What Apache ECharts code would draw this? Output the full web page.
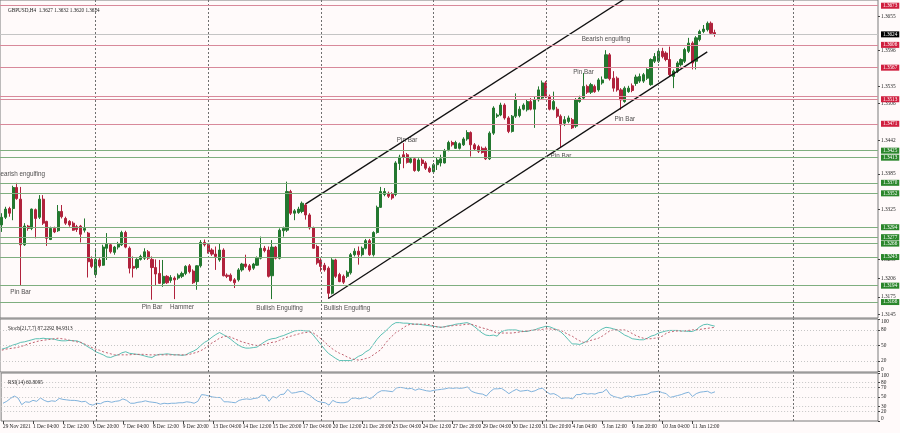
<!DOCTYPE html>
<html><head><meta charset="utf-8">
<script src="https://cdn.jsdelivr.net/npm/echarts@6/dist/echarts.min.js"></script>
<style>html,body{margin:0;padding:0;background:#fffafa}#c{width:900px;height:433px}</style>
</head><body><div id="c"></div>
<script>
const tickLabels = ['29 Nov 2021','1 Dec 04:00','2 Dec 12:00','3 Dec 20:00','7 Dec 04:00','8 Dec 12:00','9 Dec 20:00','13 Dec 04:00','14 Dec 12:00','15 Dec 20:00','17 Dec 04:00','20 Dec 12:00','21 Dec 20:00','23 Dec 04:00','24 Dec 12:00','27 Dec 20:00','29 Dec 04:00','30 Dec 12:00','31 Dec 20:00','4 Jan 04:00','5 Jan 12:00','6 Jan 20:00','10 Jan 04:00','11 Jan 12:00'];

// [open, close, low, high]
const candles = [
[1.3298,1.3311,1.3286,1.3318],[1.3311,1.3325,1.3308,1.3329],[1.3326,1.3318,1.3312,1.3329],[1.3326,1.3362,1.3306,1.3365],[1.3362,1.3343,1.3341,1.3370],
[1.3342,1.3264,1.3194,1.3363],[1.3264,1.3296,1.3262,1.3301],[1.3296,1.3292,1.3288,1.3298],[1.3292,1.3325,1.3289,1.3326],[1.3324,1.3309,1.3275,1.3326],
[1.3311,1.3342,1.3308,1.3349],[1.3342,1.3301,1.3298,1.3349],[1.3304,1.3275,1.3262,1.3305],[1.3273,1.3292,1.3272,1.3295],[1.3292,1.3286,1.3284,1.3295],
[1.3288,1.3321,1.3286,1.3332],[1.3321,1.3312,1.3309,1.3332],[1.3309,1.3301,1.3298,1.3312],[1.3304,1.3298,1.3295,1.3306],[1.3301,1.3289,1.3288,1.3304],
[1.3295,1.3290,1.3286,1.3298],[1.3296,1.3282,1.3268,1.3298],[1.3289,1.3292,1.3285,1.3309],[1.3284,1.3235,1.3208,1.3286],[1.3239,1.3227,1.3224,1.3244],
[1.3213,1.3239,1.3208,1.3258],[1.3238,1.3228,1.3225,1.3241],[1.3229,1.3260,1.3228,1.3264],[1.3258,1.3265,1.3238,1.3284],[1.3264,1.3252,1.3249,1.3267],
[1.3251,1.3260,1.3247,1.3262],[1.3260,1.3265,1.3256,1.3269],[1.3264,1.3285,1.3262,1.3288],[1.3285,1.3260,1.3258,1.3288],[1.3258,1.3224,1.3215,1.3261],
[1.3227,1.3224,1.3208,1.3244],[1.3225,1.3239,1.3222,1.3241],[1.3239,1.3244,1.3237,1.3247],[1.3241,1.3252,1.3238,1.3258],[1.3252,1.3241,1.3238,1.3255],
[1.3239,1.3225,1.3170,1.3244],[1.3225,1.3214,1.3195,1.3239],[1.3215,1.3198,1.3197,1.3238],[1.3198,1.3210,1.3192,1.3238],[1.3210,1.3199,1.3197,1.3212],
[1.3203,1.3208,1.3199,1.3212],[1.3207,1.3204,1.3171,1.3210],[1.3207,1.3212,1.3204,1.3215],[1.3210,1.3215,1.3207,1.3218],[1.3215,1.3227,1.3212,1.3229],
[1.3228,1.3218,1.3215,1.3231],[1.3219,1.3199,1.3197,1.3222],[1.3201,1.3228,1.3187,1.3229],[1.3228,1.3268,1.3225,1.3272],[1.3268,1.3264,1.3261,1.3273],
[1.3264,1.3252,1.3249,1.3267],[1.3255,1.3248,1.3245,1.3258],[1.3248,1.3244,1.3221,1.3261],[1.3238,1.3255,1.3235,1.3267],[1.3255,1.3211,1.3210,1.3258],
[1.3212,1.3210,1.3207,1.3215],[1.3212,1.3203,1.3201,1.3215],[1.3204,1.3199,1.3190,1.3207],[1.3204,1.3221,1.3201,1.3224],[1.3221,1.3231,1.3218,1.3233],
[1.3231,1.3227,1.3224,1.3247],[1.3228,1.3221,1.3218,1.3231],[1.3224,1.3231,1.3221,1.3233],[1.3229,1.3241,1.3228,1.3244],[1.3241,1.3258,1.3239,1.3278],
[1.3258,1.3254,1.3251,1.3262],[1.3255,1.3210,1.3208,1.3261],[1.3211,1.3260,1.3171,1.3272],[1.3260,1.3241,1.3239,1.3262],[1.3241,1.3289,1.3239,1.3292],
[1.3288,1.3292,1.3278,1.3295],[1.3289,1.3355,1.3286,1.3372],[1.3355,1.3318,1.3315,1.3358],[1.3318,1.3322,1.3306,1.3325],[1.3319,1.3325,1.3317,1.3329],
[1.3321,1.3335,1.3318,1.3338],[1.3332,1.3315,1.3307,1.3335],[1.3315,1.3293,1.3290,1.3318],[1.3293,1.3258,1.3257,1.3295],[1.3261,1.3233,1.3230,1.3264],
[1.3238,1.3227,1.3218,1.3241],[1.3229,1.3221,1.3218,1.3233],[1.3224,1.3181,1.3172,1.3227],[1.3181,1.3238,1.3179,1.3241],[1.3238,1.3210,1.3207,1.3240],
[1.3213,1.3201,1.3200,1.3216],[1.3210,1.3200,1.3197,1.3213],[1.3210,1.3217,1.3207,1.3220],[1.3216,1.3247,1.3213,1.3250],[1.3247,1.3253,1.3244,1.3258],
[1.3253,1.3247,1.3230,1.3261],[1.3247,1.3258,1.3244,1.3261],[1.3258,1.3271,1.3256,1.3274],[1.3271,1.3247,1.3245,1.3274],[1.3247,1.3285,1.3244,1.3287],
[1.3285,1.3328,1.3283,1.3331],[1.3328,1.3355,1.3327,1.3363],[1.3350,1.3355,1.3347,1.3361],[1.3352,1.3347,1.3344,1.3355],[1.3350,1.3344,1.3341,1.3354],
[1.3350,1.3404,1.3347,1.3407],[1.3403,1.3414,1.3392,1.3418],[1.3418,1.3414,1.3395,1.3438],[1.3418,1.3405,1.3403,1.3421],[1.3405,1.3411,1.3403,1.3414],
[1.3411,1.3391,1.3389,1.3412],[1.3391,1.3409,1.3389,1.3412],[1.3409,1.3403,1.3399,1.3412],[1.3404,1.3395,1.3392,1.3407],[1.3395,1.3389,1.3387,1.3398],
[1.3389,1.3401,1.3388,1.3404],[1.3401,1.3409,1.3392,1.3414],[1.3404,1.3411,1.3398,1.3418],[1.3404,1.3425,1.3403,1.3428],[1.3427,1.3439,1.3424,1.3442],
[1.3439,1.3435,1.3432,1.3442],[1.3429,1.3439,1.3428,1.3442],[1.3429,1.3437,1.3427,1.3439],[1.3435,1.3445,1.3433,1.3448],[1.3445,1.3456,1.3442,1.3460],
[1.3456,1.3435,1.3415,1.3458],[1.3435,1.3428,1.3425,1.3438],[1.3432,1.3424,1.3421,1.3435],[1.3429,1.3422,1.3420,1.3432],[1.3429,1.3411,1.3409,1.3432],
[1.3411,1.3455,1.3409,1.3458],[1.3455,1.3498,1.3452,1.3501],[1.3484,1.3486,1.3481,1.3489],[1.3486,1.3503,1.3484,1.3507],[1.3503,1.3481,1.3478,1.3506],
[1.3481,1.3458,1.3455,1.3484],[1.3458,1.3484,1.3456,1.3486],[1.3484,1.3512,1.3481,1.3523],[1.3485,1.3496,1.3482,1.3501],[1.3496,1.3503,1.3494,1.3506],
[1.3495,1.3509,1.3492,1.3512],[1.3509,1.3496,1.3494,1.3515],[1.3496,1.3512,1.3464,1.3518],[1.3512,1.3529,1.3509,1.3535],[1.3515,1.3541,1.3512,1.3545],
[1.3541,1.3518,1.3515,1.3544],[1.3518,1.3496,1.3494,1.3521],[1.3496,1.3509,1.3494,1.3526],[1.3496,1.3484,1.3481,1.3500],[1.3484,1.3469,1.3430,1.3487],
[1.3472,1.3478,1.3467,1.3484],[1.3475,1.3481,1.3472,1.3485],[1.3478,1.3464,1.3462,1.3481],[1.3467,1.3512,1.3464,1.3515],[1.3509,1.3515,1.3507,1.3519],
[1.3515,1.3535,1.3512,1.3558],[1.3535,1.3525,1.3522,1.3538],[1.3525,1.3538,1.3522,1.3541],[1.3535,1.3526,1.3524,1.3538],[1.3529,1.3546,1.3526,1.3549],
[1.3541,1.3546,1.3538,1.3552],[1.3549,1.3589,1.3548,1.3597],[1.3589,1.3548,1.3545,1.3592],[1.3549,1.3532,1.3526,1.3561],[1.3549,1.3529,1.3526,1.3552],
[1.3529,1.3512,1.3495,1.3532],[1.3509,1.3532,1.3507,1.3535],[1.3526,1.3532,1.3524,1.3536],[1.3536,1.3528,1.3525,1.3540],[1.3540,1.3551,1.3536,1.3555],
[1.3544,1.3552,1.3541,1.3557],[1.3544,1.3555,1.3541,1.3558],[1.3549,1.3564,1.3546,1.3566],[1.3538,1.3581,1.3536,1.3583],[1.3578,1.3586,1.3575,1.3592],
[1.3578,1.3595,1.3575,1.3598],[1.3595,1.3586,1.3583,1.3601],[1.3592,1.3581,1.3578,1.3595],[1.3581,1.3555,1.3552,1.3603],[1.3552,1.3561,1.3532,1.3564],
[1.3561,1.3575,1.3558,1.3578],[1.3572,1.3581,1.3569,1.3583],[1.3578,1.3598,1.3575,1.3601],[1.3595,1.3609,1.3592,1.3618],[1.3609,1.3575,1.3564,1.3612],
[1.3578,1.3618,1.3564,1.3621],[1.3615,1.3629,1.3612,1.3632],[1.3629,1.3633,1.3626,1.3640],[1.3632,1.3643,1.3629,1.3646],[1.3643,1.3626,1.3623,1.3646],
[1.3627,1.3624,1.3620,1.3632]
];

const stochMain = [43,45,48,51,53,56,57,59,61,63, 63,64,63,63,62,60,59,59,60,59, 59,56,52,47,43,38,35,32,28,27, 30,32,36,38,35,34,33,32,30,28,
27,31,33,33,34,33,32,32,31,32, 36,39,43,50,56,60,66,71,75,71, 67,62,56,51,47,45,45,46,47,52, 57,61,63,64,67,69,72,75,78,79,
79,78,78,70,61,52,43,35,30,25, 21,21,21,21,24,29,32,38,42,52, 62,70,76,83,90,94,94,93,93,92, 91,91,90,89,88,87,86,85,86,88,
89,91,92,93,94,91,86,80,74,70, 69,70,68,76,79,80,80,80,78,77, 77,79,80,83,85,87,86,83,80,76, 69,61,53,53,52,55,59,67,72,77,
82,85,84,82,80,75,70,67,63,62, 61,61,64,68,70,74,76,78,79,79, 79,78,78,77,77,80,86,90,91,89, 87.2292];

const stochSignal = [41,43,44,45,46,48,50,53,55,57, 59,60,61,62,63,64,63,62,60,59, 57,56,53,50,46,43,41,38,36,34, 32,32,32,32,32,33,33,33,33,32,
32,32,32,32,32,32,32,32,32,32, 33,35,37,40,44,50,55,59,64,67, 68,66,63,60,57,55,53,51,50,51, 52,54,56,57,60,63,66,68,70,72,
74,75,76,74,69,63,57,50,44,39, 35,32,28,25,23,22,23,25,27,32, 37,42,52,61,68,75,79,84,89,91, 91,91,91,91,90,88,86,85,86,87,
88,89,89,90,91,91,89,86,84,82, 80,77,74,74,74,74,74,75,76,77, 78,79,80,80,81,82,82,81,80,79, 75,71,68,63,59,56,57,60,62,64,
68,73,78,80,80,80,80,77,73,69, 66,64,63,63,64,65,68,73,76,77, 78,78,78,79,80,80,81,82,83,84, 84.9313];

const rsiValues = [37,41,47,52,48,34,40,39,43,41, 48,43,40,42,41,47,45,44,43,43, 42,40,41,35,33,37,36,40,41,39, 41,42,46,43,37,37,39,40,42,40,
39,38,35,37,36,37,37,38,38,40, 39,37,41,55,54,52,50,49,49,40, 40,39,38,43,45,46,45,47,48,54, 53,41,51,48,55,56,66,58,59,61,
62,57,53,46,41,39,38,33,43,39, 38,38,40,47,48,46,48,50,46,52, 59,63,63,62,61,69,70,69,67,68, 64,67,65,63,62,64,65,66,67,69,
68,69,68,69,71,62,59,57,56,52, 61,67,67,68,63,57,62,66,62,63, 64,61,63,67,68,61,56,57,53,47, 48,48,46,55,55,58,56,57,56,59,
60,66,55,51,49,47,51,52,50,53, 54,55,56,60,61,62,59,57,49,51, 53,55,58,60,51,57,60,61,62,58, 60.8095];

const priceTicks = [1.3145,1.3175,1.3206,1.3239,1.3325,1.3385,1.3442,1.3506,1.3535,1.3596,1.3655];
const redLevels = [1.3673,1.3606,1.3567,1.3513,1.3471];
const redPlainLevels = [1.3518];
const greenLevels = [1.3425,1.3413,1.3370,1.3352,1.3294,1.3277,1.3266,1.3243,1.3194,1.3166];
const currentPrice = 1.3624;
const stochLevels = [20,50,80];
const rsiLevels = [20,30,50,70,80];
const stochTicks = [0,20,50,80,100];
const rsiTicks = [0,20,30,50,70,80,100];
const gridBars = [25,55,85,115,145,175,211];

const annotTexts = ['Bearish engulfing','Pin Bar','Pin Bar','Hammer','Bullish Engulfing','Bullish Engulfing','Pin Bar','Pin Bar','Pin Bar','Bearish engulfing','Pin Bar'];
const annotBars = [4.5,5,40,48,74,92,108,149,155,161,166];
const annotPrices = [1.3384,1.3182,1.3157,1.3157,1.3155,1.3156,1.3442,1.3415,1.3560,1.3615,1.3478];

const trendUpper = [[81,1.3334],[168,1.3693]];
const trendLower = [[87,1.3172],[188,1.3594]];

const SLOTS = 234;
const categories = [];
for (let i = 0; i < SLOTS; i++) categories.push(i % 8 === 0 && i / 8 < tickLabels.length ? tickLabels[i / 8] : '');

const FONT = 'Liberation Sans';
const NARROW = 'Liberation Sans Narrow';
const RED_LINE = '#d8899a', RED_BOX = '#d01f3f';
const GREEN_LINE = '#7fae7f', GREEN_BOX = '#2b862b';
const GRIDV = {color:'#6f6f6f', type:[2,2], width:1};
const fmt4 = v => Number(v).toFixed(4);

const vLines = gridBars.map(b => ({xAxis: b, lineStyle: GRIDV, label: {show:false}}));
const levelBox = (bg) => ({show:true, position:'end', distance:3, formatter: p => fmt4(p.value), color:'#fff', backgroundColor:bg, padding:[1,2,0,2], fontSize:5.2, fontFamily:NARROW});

const mainMarks = [].concat(
  vLines,
  redLevels.map(v => ({yAxis:v, lineStyle:{color:RED_LINE, width:1, type:'solid'}, label: levelBox(RED_BOX)})),
  redPlainLevels.map(v => ({yAxis:v, lineStyle:{color:RED_LINE, width:1, type:'solid'}, label:{show:false}})),
  greenLevels.map(v => ({yAxis:v, lineStyle:{color:GREEN_LINE, width:1, type:'solid'}, label: levelBox(GREEN_BOX)})),
  [{yAxis:currentPrice, lineStyle:{color:'#c4c4c4', width:1, type:'solid'}, label: levelBox('#000')}]
);
const dotted = {color:'#c6c6c6', type:[1,2], width:1};
const stochMarks = vLines.concat(stochLevels.map(v => ({yAxis:v, lineStyle:dotted, label:{show:false}})));
const rsiMarks = vLines.concat(rsiLevels.map(v => ({yAxis:v, lineStyle:dotted, label:{show:false}})));

const labelInterval = (i) => i % 8 === 0 && i / 8 < tickLabels.length;
const baseX = (gi, showLabels) => ({
  type:'category', gridIndex:gi, data:categories, boundaryGap:true,
  axisLine:{show:false}, splitLine:{show:false},
  axisTick: showLabels ? {show:true, interval:labelInterval, alignWithLabel:true, length:3, lineStyle:{color:'#444'}} : {show:false},
  axisLabel: showLabels ? {show:true, interval:labelInterval, align:'left', margin:3, fontSize:5.3, color:'#222', fontFamily:NARROW} : {show:false}
});
// edge labels of the indicator panes are nudged inside the pane, as the terminal does
const edgeFmt = (top, bottom) => v => v === top ? '{t|' + v + '}' : (v === bottom ? '{b|' + v + '}' : String(v));
const edgeRich = {t:{padding:[5,0,0,0], fontSize:5.3, fontFamily:NARROW, color:'#222'}, b:{padding:[0,0,4,0], fontSize:5.3, fontFamily:NARROW, color:'#222'}};
const baseY = (gi, min, max, ticks, f, rich) => ({
  type:'value', gridIndex:gi, position:'right', min:min, max:max, scale:true,
  axisLine:{show:false}, splitLine:{show:false},
  axisTick:{show:true, customValues:ticks, length:2, lineStyle:{color:'#444'}},
  axisLabel:{show:true, customValues:ticks, formatter:f, margin:3, fontSize:5.3, color:'#222', fontFamily:NARROW, rich:rich || {}}
});

const chart = echarts.init(document.getElementById('c'), null, {renderer:'canvas'});
chart.setOption({
  animation:false,
  backgroundColor:'#fffafa',
  title:[
    {text:'GBPUSD,H4  1.3627 1.3632 1.3620 1.3624', left:3, top:3, textStyle:{fontSize:5.2, fontWeight:'normal', color:'#222', fontFamily:NARROW}},
    {text:'Stoch(21,7,7) 87.2292 84.9313', left:3, top:321, textStyle:{fontSize:5.2, fontWeight:'normal', color:'#222', fontFamily:NARROW}},
    {text:'RSI(14) 60.8095', left:3, top:375, textStyle:{fontSize:5.2, fontWeight:'normal', color:'#222', fontFamily:NARROW}}
  ],
  grid:[
    {left:0, top:0, width:878, height:318, show:true, borderColor:'#7a7a7a', borderWidth:1},
    {left:0, top:319, width:878, height:53, show:true, borderColor:'#7a7a7a', borderWidth:1},
    {left:0, top:373, width:878, height:48, show:true, borderColor:'#7a7a7a', borderWidth:1}
  ],
  xAxis:[baseX(0,false), baseX(1,false), baseX(2,true)],
  yAxis:[
    baseY(0, 1.31387, 1.36828, priceTicks, fmt4),
    baseY(1, -1, 101, stochTicks, edgeFmt(100, 0), edgeRich),
    baseY(2, 0, 100, rsiTicks, edgeFmt(100, 0), edgeRich)
  ],
  series:[
    {type:'candlestick', xAxisIndex:0, yAxisIndex:0, data:candles, barWidth:2.6,
     itemStyle:{color:'#23772f', color0:'#b0223c', borderColor:'#23772f', borderColor0:'#b0223c', borderWidth:1},
     markLine:{symbol:'none', silent:true, animation:false, precision:4, data:mainMarks}},
    {type:'line', xAxisIndex:0, yAxisIndex:0, data:trendUpper, showSymbol:false, symbol:'none', clip:true, lineStyle:{color:'#111', width:1.3}},
    {type:'line', xAxisIndex:0, yAxisIndex:0, data:trendLower, showSymbol:false, symbol:'none', clip:true, lineStyle:{color:'#111', width:1.3}},
    {type:'scatter', xAxisIndex:0, yAxisIndex:0, symbolSize:1, itemStyle:{color:'transparent'},
     data: annotTexts.map((t,i) => ({name:t, value:[annotBars[i], annotPrices[i]]})),
     label:{show:true, position:'inside', formatter:'{b}', color:'#222', fontSize:6.3, fontFamily:FONT}},
    {type:'line', xAxisIndex:1, yAxisIndex:1, data:stochMain, showSymbol:false, symbol:'none', lineStyle:{color:'#5cc0b4', width:1},
     markLine:{symbol:'none', silent:true, animation:false, data:stochMarks}},
    {type:'line', xAxisIndex:1, yAxisIndex:1, data:stochSignal, showSymbol:false, symbol:'none', lineStyle:{color:'#c0606e', width:1, type:[2,2]}},
    {type:'line', xAxisIndex:2, yAxisIndex:2, data:rsiValues, showSymbol:false, symbol:'none', lineStyle:{color:'#7fb2dc', width:1},
     markLine:{symbol:'none', silent:true, animation:false, data:rsiMarks}}
  ]
});
</script></body></html>
